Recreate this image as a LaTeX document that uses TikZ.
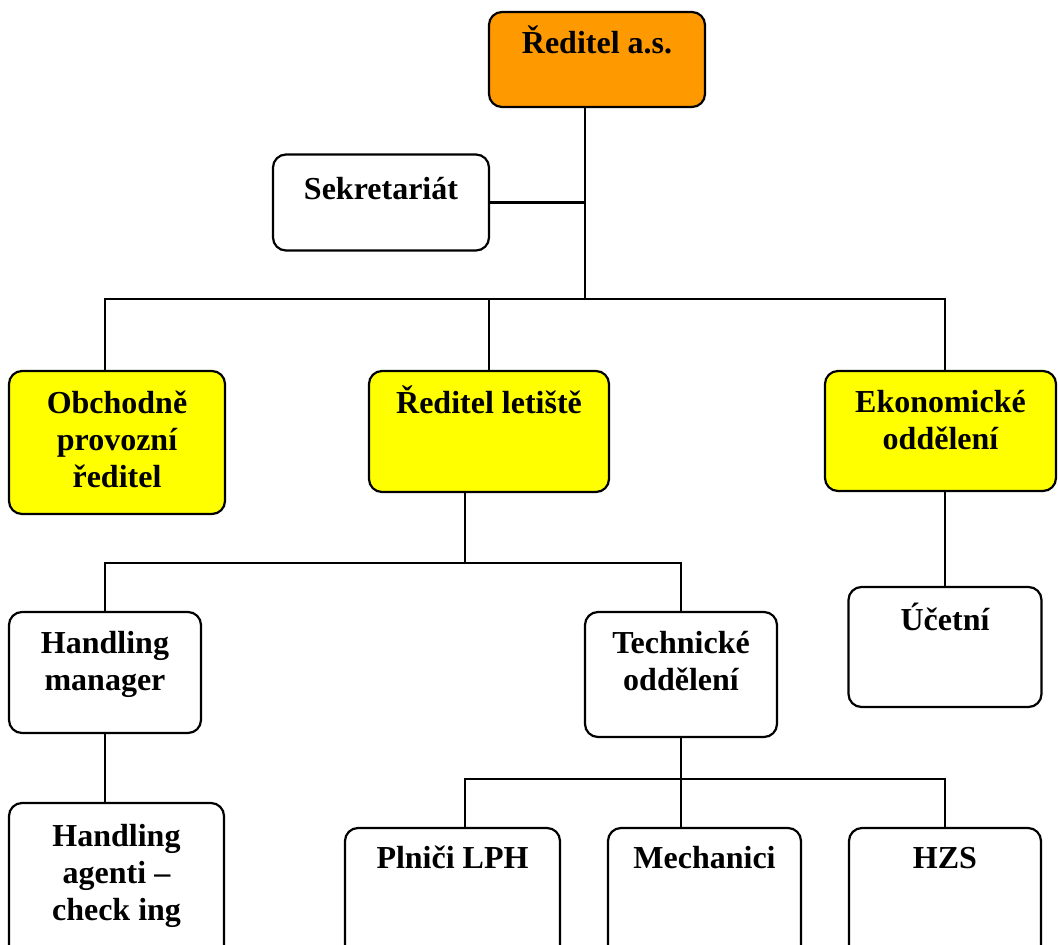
\documentclass[tikz,border=0pt]{standalone}
\usepackage{fontspec}
\setmainfont{Liberation Serif}
\begin{document}
\begin{tikzpicture}[x=1pt,y=-1pt,
  box/.style={draw=black, line width=2.2pt, rounded corners=13pt, fill=white, inner sep=0pt},
  orgbox/.style={box, fill=orgorange},
  ylbox/.style={box, fill=orgyellow},
  txt/.style={anchor=base, inner sep=0pt, font=\fontsize{32}{37}\selectfont\bfseries},
  conn/.style={line width=2.2pt}]
\definecolor{orgorange}{HTML}{FF9900}
\definecolor{orgyellow}{HTML}{FFFF00}
\useasboundingbox (0,0) rectangle (1058,945);
\clip (0,0) rectangle (1058,945);
% junctions
\coordinate (j1) at (585,299);
\coordinate (h1l) at (105,299);
\coordinate (h1r) at (945,299);
\coordinate (j2) at (465,563);
\coordinate (h2l) at (105,563);
\coordinate (h2r) at (681,563);
\coordinate (h3l) at (465,779);
\coordinate (h3m) at (681,779);
\coordinate (h3r) at (945,779);
% boxes
\node[orgbox, minimum width=216pt, minimum height=95pt] (dir) at (597,59.5) {};
\node[box, minimum width=216pt, minimum height=96pt] (sek) at (381,202.5) {};
\node[ylbox, minimum width=216pt, minimum height=143pt] (obch) at (117,442.5) {};
\node[ylbox, minimum width=240pt, minimum height=121pt] (rl) at (489,431.5) {};
\node[ylbox, minimum width=231pt, minimum height=120pt] (eko) at (940.5,431) {};
\node[box, minimum width=192pt, minimum height=121pt] (hm) at (105,672.5) {};
\node[box, minimum width=192pt, minimum height=125pt] (tech) at (681,674.5) {};
\node[box, minimum width=193pt, minimum height=120pt] (uc) at (945,647) {};
\node[box, minimum width=215pt, minimum height=170pt] (ag) at (116.5,888) {};
\node[box, minimum width=215pt, minimum height=150pt] (pl) at (452.5,903) {};
\node[box, minimum width=193pt, minimum height=150pt] (me) at (704.5,903) {};
\node[box, minimum width=192pt, minimum height=150pt] (hzs) at (945,903) {};
% texts
\node[txt] (dirt) at ([yshift=-43pt]dir.north) {Ředitel a.s.};
\node[txt] (sekt) at ([yshift=-46pt]sek.north) {Sekretariát};
\node[txt] (obcht) at ([yshift=-44pt]obch.north) {\begin{tabular}[t]{@{}c@{}}Obchodně\\provozní\\ředitel\end{tabular}};
\node[txt] (rlt) at ([yshift=-44pt]rl.north) {Ředitel letiště};
\node[txt] (ekot) at ([yshift=-43pt]eko.north) {\begin{tabular}[t]{@{}c@{}}Ekonomické\\oddělení\end{tabular}};
\node[txt] (hmt) at ([yshift=-43pt]hm.north) {\begin{tabular}[t]{@{}c@{}}Handling\\manager\end{tabular}};
\node[txt] (techt) at ([yshift=-43pt]tech.north) {\begin{tabular}[t]{@{}c@{}}Technické\\oddělení\end{tabular}};
\node[txt] (uct) at ([yshift=-45pt]uc.north) {Účetní};
\node[txt] (agt) at ([yshift=-45pt]ag.north) {\begin{tabular}[t]{@{}c@{}}Handling\\agenti –\\check ing\end{tabular}};
\node[txt] (plt) at ([yshift=-42pt]pl.north) {Plniči LPH};
\node[txt] (met) at ([yshift=-42pt]me.north) {Mechanici};
\node[txt] (hzst) at ([yshift=-42pt]hzs.north) {HZS};
% connectors
\draw[conn] (dir.south -| j1) -- (j1);
\draw[conn] (sek.east) -- (sek.east -| j1);
\draw[conn] (obch.north -| h1l) -- (h1l) -- (h1r) -- (eko.north -| h1r);
\draw[conn] (rl.north) -- (rl.north |- h1l);
\draw[conn] (rl.south -| j2) -- (j2);
\draw[conn] (hm.north) -- (h2l) -- (h2r) -- (tech.north);
\draw[conn] (eko.south -| uc.north) -- (uc.north);
\draw[conn] (hm.south) -- (hm.south |- ag.north);
\draw[conn] (tech.south) -- (h3m);
\draw[conn] (pl.north -| h3l) -- (h3l) -- (h3r) -- (hzs.north);
\draw[conn] (h3m) -- (me.north -| h3m);
\end{tikzpicture}
\end{document}
